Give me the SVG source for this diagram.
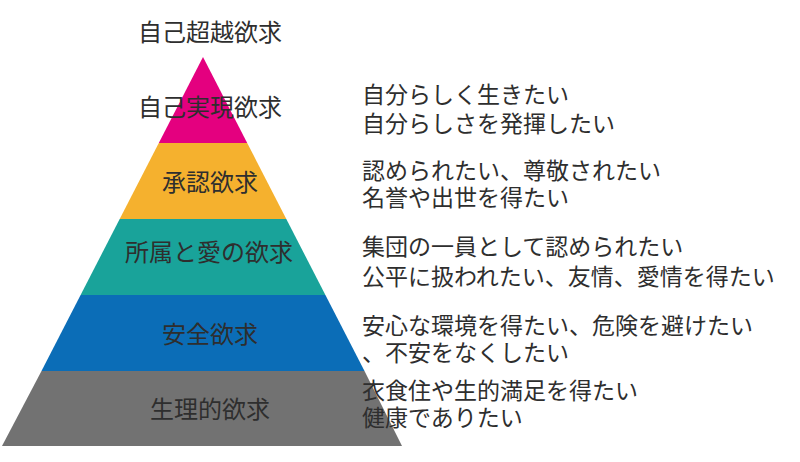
<svg xmlns="http://www.w3.org/2000/svg" width="800" height="462" viewBox="0 0 800 462">
<style>
text{font-family:"Noto Sans CJK JP","Noto Sans CJK SC",sans-serif;fill:#2e2e2e}
.lbl{font-size:24px;text-anchor:middle}
.desc{font-size:23px}
</style>
<rect width="800" height="462" fill="#ffffff"/>
<g id="top-label"><text class="lbl" x="210" y="41">自己超越欲求</text></g>
<g id="level5">
<polygon points="203,57 247.2,143 158.8,143" fill="#e4007f"/>
<text class="lbl" x="210" y="116">自己実現欲求</text>
</g>
<g id="level4">
<polygon points="158.8,143 247.2,143 286.3,219 119.7,219" fill="#f5b12e"/>
<text class="lbl" x="210" y="191">承認欲求</text>
</g>
<g id="level3">
<polygon points="119.7,219 286.3,219 325.4,295 80.6,295" fill="#19a39a"/>
<text class="lbl" x="209" y="261">所属と愛の欲求</text>
</g>
<g id="level2">
<polygon points="80.6,295 325.4,295 364.5,371 41.5,371" fill="#0b6db7"/>
<text class="lbl" x="210" y="343">安全欲求</text>
</g>
<g id="level1">
<polygon points="41.5,371 364.5,371 402,446 2,446" fill="#727272"/>
<text class="lbl" x="210" y="418">生理的欲求</text>
</g>
<g id="descriptions">
<text class="desc" x="362" y="103">自分らしく生きたい</text>
<text class="desc" x="362" y="132">自分らしさを発揮したい</text>
<text class="desc" x="362" y="179">認められたい、尊敬されたい</text>
<text class="desc" x="362" y="206">名誉や出世を得たい</text>
<text class="desc" x="362" y="255">集団の一員として認められたい</text>
<text class="desc" x="362" y="285">公平に扱われたい、友情、愛情を得たい</text>
<text class="desc" x="362" y="334">安心な環境を得たい、危険を避けたい</text>
<text class="desc" x="362" y="361">、不安をなくしたい</text>
<text class="desc" x="362" y="399">衣食住や生的満足を得たい</text>
<text class="desc" x="362" y="426">健康でありたい</text>
</g>
</svg>
